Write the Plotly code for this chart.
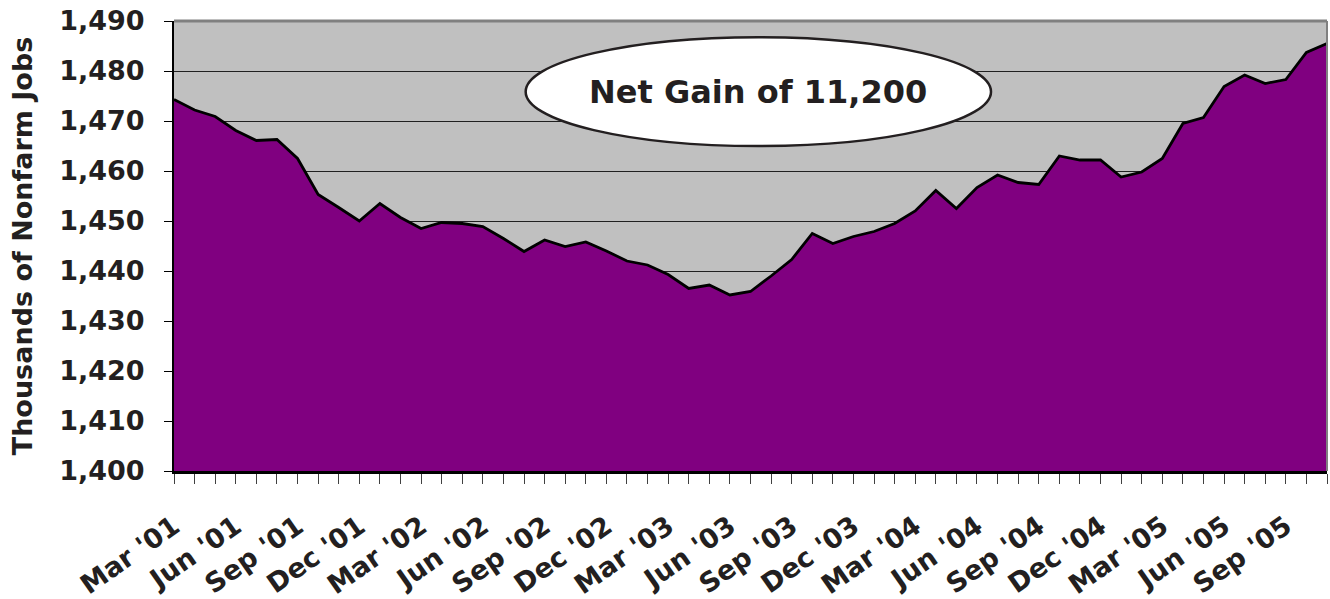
import plotly.graph_objects as go

# Monthly nonfarm jobs (thousands), Mar 2001 - Nov 2005
month_names = ["Jan", "Feb", "Mar", "Apr", "May", "Jun",
               "Jul", "Aug", "Sep", "Oct", "Nov", "Dec"]
start_year = 2001
start_month = 3  # March
n_months = 57

jobs = [
    1474.3, 1472.2, 1470.9, 1468.1, 1466.1, 1466.3, 1462.5, 1455.3, 1452.7, 1450.0,
    1453.5, 1450.7, 1448.5, 1449.7, 1449.5, 1448.9, 1446.5, 1443.9, 1446.2, 1444.9,
    1445.8, 1444.0, 1442.0, 1441.2, 1439.3, 1436.5, 1437.2, 1435.2, 1435.9, 1439.0,
    1442.3, 1447.5, 1445.5, 1446.9, 1447.9, 1449.5, 1452.0, 1456.1, 1452.5, 1456.7,
    1459.2, 1457.7, 1457.3, 1463.0, 1462.2, 1462.2, 1458.8, 1459.8, 1462.5, 1469.5,
    1470.7, 1476.9, 1479.2, 1477.5, 1478.3, 1483.7, 1485.5,
]

y_ticks = [1400, 1410, 1420, 1430, 1440, 1450, 1460, 1470, 1480, 1490]
y_tick_labels = ["1,400", "1,410", "1,420", "1,430", "1,440",
                 "1,450", "1,460", "1,470", "1,480", "1,490"]

annotation_text = "Net Gain of 11,200"
y_title = "Thousands of Nonfarm Jobs"

# Build month labels
months = []
for i in range(n_months):
    m = (start_month - 1 + i) % 12
    yr = start_year + (start_month - 1 + i) // 12
    months.append(f"{month_names[m]} '{yr % 100:02d}")

x_idx = list(range(len(jobs)))
x_tick_text = [lab if i % 3 == 0 else "" for i, lab in enumerate(months)]

FONT = "DejaVu Sans"
TXT = "#231F20"

fig = go.Figure()
fig.add_trace(go.Scatter(
    x=x_idx, y=jobs, mode="lines",
    line=dict(color="black", width=2.8),
    fill="tozeroy", fillcolor="#800080",
    hoverinfo="skip", showlegend=False,
))

fig.update_layout(
    width=1330, height=599,
    margin=dict(l=174, r=3, t=21, b=128, autoexpand=False),
    paper_bgcolor="white",
    plot_bgcolor="#C0C0C0",
    font=dict(family=FONT, color=TXT),
    hovermode=False,
    xaxis=dict(
        range=[0, len(jobs) - 1],
        automargin=False,
        tickmode="array", tickvals=x_idx, ticktext=x_tick_text,
        tickangle=-35,
        tickfont=dict(family=FONT, size=27, color=TXT, weight="bold"),
        ticks="outside", ticklen=10, tickwidth=1, tickcolor="#404040",
        ticklabelstandoff=16,
        showgrid=False, zeroline=False,
        showline=True, linecolor="black", linewidth=3,
    ),
    yaxis=dict(
        range=[1400, 1490],
        automargin=False,
        tickmode="array", tickvals=y_ticks, ticktext=y_tick_labels,
        tickfont=dict(family=FONT, size=27, color=TXT, weight="bold"),
        ticks="outside", ticklen=8, tickwidth=1, tickcolor="black",
        ticklabelstandoff=14,
        showgrid=True, gridcolor="#202020", gridwidth=1,
        zeroline=False,
        showline=True, linecolor="black", linewidth=2,
        title=dict(text=y_title, standoff=19,
                   font=dict(family=FONT, size=27, color=TXT, weight="bold")),
    ),
    shapes=[
        dict(type="line", xref="paper", yref="paper", x0=0, x1=1, y0=1, y1=1,
             line=dict(color="#808080", width=3), layer="above"),
        dict(type="line", xref="paper", yref="paper", x0=1, x1=1, y0=0, y1=1,
             line=dict(color="#808080", width=2), layer="above"),
        dict(type="circle", xref="paper", yref="paper",
             x0=0.305, x1=0.7086, y0=0.722, y1=0.964,
             fillcolor="white", line=dict(color="#231F20", width=2.5),
             layer="above"),
    ],
    annotations=[
        dict(text=annotation_text, xref="paper", yref="paper",
             x=0.5068, y=0.843, showarrow=False,
             xanchor="center", yanchor="middle",
             font=dict(family=FONT, size=32, color=TXT, weight="bold")),
    ],
)

fig.write_html("out.html", config={"displayModeBar": False},
               post_script="document.body.style.margin='0';")
